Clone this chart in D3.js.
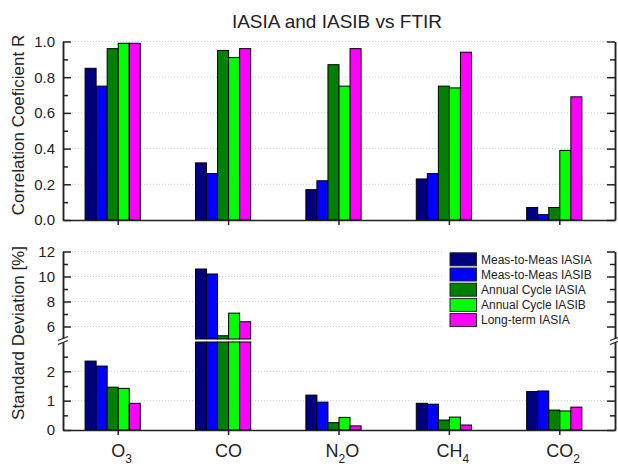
<!DOCTYPE html>
<html>
<head>
<meta charset="utf-8">
<script src="https://cdn.jsdelivr.net/npm/d3@7"></script>
<style>
  body { margin: 0; background: #fff; }
  svg { font-family: Arial, "Liberation Sans", sans-serif; }
</style>
</head>
<body>
<div id="graf"></div>
<script>
// categorias (gases) y etiquetas con subindice: [base, sub, resto]
const gases = ["O3", "CO", "N2O", "CH4", "CO2"]
const gasLabels = [["O", "3", ""], ["CO", "", ""], ["N", "2", "O"], ["CH", "4", ""], ["CO", "2", ""]]

const series = ["Meas-to-Meas IASIA", "Meas-to-Meas IASIB", "Annual Cycle IASIA", "Annual Cycle IASIB", "Long-term IASIA"]
const colores = ["#000080", "#0000ff", "#008000", "#00ff00", "#ff00ff"]

// coeficiente de correlacion R
const corrM2mA = [0.85, 0.32, 0.17, 0.23, 0.07]
const corrM2mB = [0.75, 0.26, 0.22, 0.26, 0.03]
const corrAcA = [0.96, 0.95, 0.87, 0.75, 0.07]
const corrAcB = [0.99, 0.91, 0.75, 0.74, 0.39]
const corrLtA = [0.99, 0.96, 0.96, 0.94, 0.69]

// desviacion estandar [%]
const sdM2mA = [2.35, 10.6, 1.19, 0.91, 1.31]
const sdM2mB = [2.18, 10.2, 0.95, 0.88, 1.33]
const sdAcA = [1.46, 5.26, 0.25, 0.34, 0.68]
const sdAcB = [1.42, 7.07, 0.43, 0.44, 0.65]
const sdLtA = [0.91, 6.38, 0.14, 0.17, 0.78]

const corrTicks = [0, 0.2, 0.4, 0.6, 0.8, 1.0]
const corrMinor = [0.1, 0.3, 0.5, 0.7, 0.9]
const sdTicksLow = [0, 1, 2]
const sdMinorLow = [0.5, 1.5, 2.5]
const sdTicksHigh = [6, 8, 10, 12]
const sdMinorHigh = [7, 9, 11]

const corrData = [corrM2mA, corrM2mB, corrAcA, corrAcB, corrLtA]
const sdData = [sdM2mA, sdM2mB, sdAcA, sdAcB, sdLtA]

const anchoTotal = 618
const altoTotal = 467
const left = 63
const right = 615

const svg = d3.select("#graf")
  .append("svg")
  .attr("width", anchoTotal)
  .attr("height", altoTotal)

const x = d3.scaleBand().domain(gases).range([left, right])
const bw = x.bandwidth() / 10
const xs = d3.scaleBand().domain(d3.range(series.length)).range([0, series.length * bw])
const grupo = (g) => x(g) + x.bandwidth() / 2 - 3 * bw

const yTop = d3.scaleLinear().domain([0, 1]).range([220, 41.5])
const yLow = d3.scaleLinear().domain([0, 3]).range([430, 342])
const yHigh = d3.scaleLinear().domain([5, 12]).range([339, 251.5])

// gridlines
const grid = (vals, y, x2) => {
  svg.append("g")
    .selectAll("line")
    .data(vals)
    .enter()
    .append("line")
    .attr("x1", left)
    .attr("x2", x2)
    .attr("y1", (d) => y(d))
    .attr("y2", (d) => y(d))
    .attr("stroke", "#c8c8c8")
    .attr("stroke-width", 1)
    .attr("stroke-dasharray", "1,2")
}
grid(corrTicks.slice(1), yTop, right)
grid(sdTicksHigh, yHigh, right)
grid(sdTicksLow.slice(1), yLow, right)

// barras panel superior
svg.append("g")
  .selectAll("g")
  .data(corrData)
  .enter()
  .append("g")
  .attr("fill", (d, i) => colores[i])
  .each(function (vals, si) {
    d3.select(this)
      .selectAll("rect")
      .data(vals)
      .enter()
      .append("rect")
      .attr("x", (d, i) => grupo(gases[i]) + xs(si))
      .attr("width", xs.bandwidth())
      .attr("y", (d) => yTop(d))
      .attr("height", (d) => yTop(0) - yTop(d))
      .attr("stroke", "#000")
      .attr("stroke-width", 1)
  })

// barras panel inferior (eje partido)
svg.append("g")
  .selectAll("g")
  .data(sdData)
  .enter()
  .append("g")
  .attr("fill", (d, i) => colores[i])
  .each(function (vals, si) {
    const sel = d3.select(this)
    sel.selectAll("rect.low")
      .data(vals)
      .enter()
      .append("rect")
      .attr("class", "low")
      .attr("x", (d, i) => grupo(gases[i]) + xs(si))
      .attr("width", xs.bandwidth())
      .attr("y", (d) => yLow(Math.min(d, 3)))
      .attr("height", (d) => yLow(0) - yLow(Math.min(d, 3)))
      .attr("stroke", "#000")
      .attr("stroke-width", 1)
    sel.selectAll("rect.high")
      .data(vals.map((v, i) => ({ v, i })).filter((d) => d.v > 5))
      .enter()
      .append("rect")
      .attr("class", "high")
      .attr("x", (d) => grupo(gases[d.i]) + xs(si))
      .attr("width", xs.bandwidth())
      .attr("y", (d) => yHigh(d.v))
      .attr("height", (d) => yHigh(5) - yHigh(d.v))
      .attr("stroke", "#000")
      .attr("stroke-width", 1)
  })

// leyenda
const leg = svg.append("g")
leg.append("rect")
  .attr("x", 444)
  .attr("y", 248)
  .attr("width", 166)
  .attr("height", 82)
  .attr("fill", "#fff")
const items = leg.selectAll("g")
  .data(series)
  .enter()
  .append("g")
  .attr("transform", (d, i) => `translate(450, ${259.3 + i * 15.2})`)
items.append("rect")
  .attr("x", 0)
  .attr("y", -6.5)
  .attr("width", 26.5)
  .attr("height", 13)
  .attr("fill", (d, i) => colores[i])
  .attr("stroke", "#222")
  .attr("stroke-width", 1)
items.append("text")
  .attr("x", 31)
  .attr("y", 0)
  .attr("dy", "0.36em")
  .attr("font-size", 12)
  .attr("fill", "#222")
  .text((d) => d)

// ejes
const estilo = (g) => {
  g.selectAll("path.domain").attr("stroke", "#222").attr("stroke-width", 1.5)
  g.selectAll(".tick line").attr("stroke", "#222").attr("stroke-width", 1.5)
  g.selectAll(".tick text").attr("font-size", 15).attr("fill", "#222").attr("font-family", "Arial, 'Liberation Sans', sans-serif")
}

const ejeY = (y, major, minor, fmt) => {
  svg.append("g")
    .attr("transform", `translate(${left},0)`)
    .call(d3.axisLeft(y).tickValues(major).tickFormat(fmt).tickSizeInner(-8).tickSizeOuter(0).tickPadding(8))
    .call(estilo)
  svg.append("g")
    .attr("transform", `translate(${left},0)`)
    .call(d3.axisLeft(y).tickValues(minor).tickFormat("").tickSizeInner(-5).tickSizeOuter(0))
    .call(estilo)
  svg.append("g")
    .attr("transform", `translate(${right},0)`)
    .call(d3.axisRight(y).tickValues(major).tickFormat("").tickSizeInner(-8).tickSizeOuter(0))
    .call(estilo)
  svg.append("g")
    .attr("transform", `translate(${right},0)`)
    .call(d3.axisRight(y).tickValues(minor).tickFormat("").tickSizeInner(-5).tickSizeOuter(0))
    .call(estilo)
}
ejeY(yTop, corrTicks, corrMinor, d3.format(".1f"))
ejeY(yHigh, sdTicksHigh, sdMinorHigh, d3.format("d"))
ejeY(yLow, sdTicksLow, sdMinorLow, d3.format("d"))

svg.append("g")
  .attr("transform", `translate(0,${yTop(0)})`)
  .call(d3.axisBottom(x).tickFormat("").tickSizeInner(5).tickSizeOuter(0))
  .call(estilo)
svg.append("g")
  .attr("transform", `translate(0,${yLow(0)})`)
  .call(d3.axisBottom(x).tickFormat("").tickSizeInner(5).tickSizeOuter(0))
  .call(estilo)

// marcas de corte del eje
const yCorte = (yHigh(5) + yLow(3)) / 2
;[left, right].forEach((xx) => {
  svg.append("rect")
    .attr("x", xx - 3)
    .attr("y", yCorte - 2)
    .attr("width", 6)
    .attr("height", 4)
    .attr("fill", "#fff")
  ;[-2, 2].forEach((o) => {
    svg.append("line")
      .attr("x1", xx - 5)
      .attr("x2", xx + 5)
      .attr("y1", yCorte + o + 2)
      .attr("y2", yCorte + o - 2)
      .attr("stroke", "#222")
      .attr("stroke-width", 1.2)
  })
})

// etiquetas de categorias
svg.append("g")
  .selectAll("text")
  .data(gases)
  .enter()
  .append("text")
  .attr("y", 457)
  .attr("font-size", 18)
  .attr("fill", "#222")
  .each(function (g, i) {
    const t = d3.select(this)
    const [base, sub, resto] = gasLabels[i]
    t.append("tspan").text(base)
    let s = null
    if (sub) {
      s = t.append("tspan").attr("font-size", 12).attr("dy", 6).text(sub)
    }
    if (resto) {
      t.append("tspan").attr("dy", -6).text(resto)
    }
    const w = this.getComputedTextLength()
    const ws = s ? s.node().getComputedTextLength() : 0
    t.attr("x", x(g) + x.bandwidth() / 2 - (w - ws) / 2)
  })

// titulos
svg.append("text")
  .attr("x", 337)
  .attr("y", 28)
  .attr("text-anchor", "middle")
  .attr("font-size", 19)
  .attr("fill", "#222")
  .text("IASIA and IASIB vs FTIR")

svg.append("text")
  .attr("transform", "translate(23.5,125) rotate(-90)")
  .attr("text-anchor", "middle")
  .attr("font-size", 17)
  .attr("fill", "#222")
  .text("Correlation Coeficient R")

svg.append("text")
  .attr("transform", "translate(23.5,333) rotate(-90)")
  .attr("text-anchor", "middle")
  .attr("font-size", 17)
  .attr("fill", "#222")
  .text("Standard Deviation [%]")
</script>
</body>
</html>
